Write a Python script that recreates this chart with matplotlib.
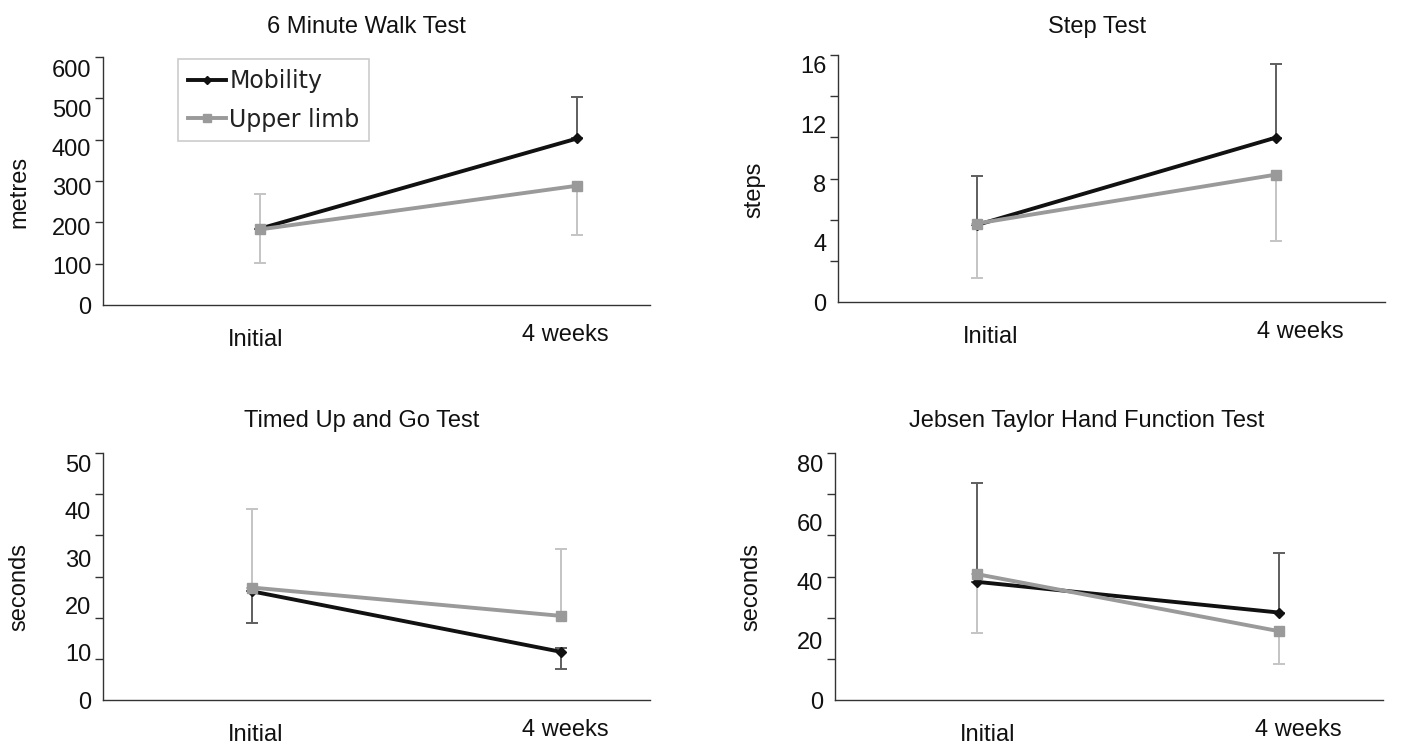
import numpy as np
import matplotlib
matplotlib.use("Agg")
import matplotlib.pyplot as plt
from matplotlib.lines import Line2D

plt.rcParams['font.family'] = ['Liberation Sans', 'DejaVu Sans']
plt.rcParams['font.size'] = 17

# --- data ---
timepoints = ["Initial", "4 weeks"]
series_names = ["Mobility", "Upper limb"]

walk_mobility = [194, 423]
walk_mobility_lo = [0, 0]
walk_mobility_hi = [0, 105]
walk_upper = [192, 303]
walk_upper_lo = [86, 125]
walk_upper_hi = [91, 0]

step_mobility = [5.2, 11.1]
step_mobility_lo = [0, 0]
step_mobility_hi = [3.3, 5.0]
step_upper = [5.3, 8.6]
step_upper_lo = [3.7, 4.5]
step_upper_hi = [0, 0]

tug_mobility = [23.0, 10.2]
tug_mobility_lo = [6.8, 3.7]
tug_mobility_hi = [0, 0.9]
tug_upper = [23.8, 17.8]
tug_upper_lo = [0, 0]
tug_upper_hi = [16.7, 14.2]

jt_mobility = [40.0, 29.6]
jt_mobility_lo = [0, 0]
jt_mobility_hi = [33.5, 20.3]
jt_upper = [42.6, 23.3]
jt_upper_lo = [19.8, 11.2]
jt_upper_hi = [0, 0]

walk_ticks = [0, 100, 200, 300, 400, 500, 600]
step_ticks = [0, 4, 8, 12, 16]
tug_ticks = [0, 10, 20, 30, 40, 50]
jt_ticks = [0, 20, 40, 60, 80]

# --- layout ---
MOB_COLOR = '#111111'
UPP_COLOR = '#9a9a9a'
MOB_ERR = '#5e5e5e'
UPP_ERR = '#c4c4c4'

fig = plt.figure(figsize=(14.02, 7.45), dpi=100)

panels = [
    # rect, title, title_x, ylabel, ytop, ticks, data, x fractions of the two points, title pad
    ([0.0735, 0.5906, 0.390, 0.3329], "6 Minute Walk Test", 0.481, "metres", 630, walk_ticks,
     (walk_mobility, walk_mobility_lo, walk_mobility_hi, walk_upper, walk_upper_lo, walk_upper_hi),
     (0.287, 0.867), 17.0),
    ([0.5977, 0.5946, 0.390, 0.3315], "Step Test", 0.473, "steps", 16.67, step_ticks,
     (step_mobility, step_mobility_lo, step_mobility_hi, step_upper, step_upper_lo, step_upper_hi),
     (0.254, 0.801), 16.0),
    ([0.0735, 0.0604, 0.390, 0.3315], "Timed Up and Go Test", 0.473, "seconds", 52.25, tug_ticks,
     (tug_mobility, tug_mobility_lo, tug_mobility_hi, tug_upper, tug_upper_lo, tug_upper_hi),
     (0.272, 0.837), 18.5),
    ([0.5956, 0.0604, 0.3909, 0.3315], "Jebsen Taylor Hand Function Test", 0.46, "seconds", 83.6, jt_ticks,
     (jt_mobility, jt_mobility_lo, jt_mobility_hi, jt_upper, jt_upper_lo, jt_upper_hi),
     (0.259, 0.810), 18.5),
]

label_fracs = (0.279, 0.845)
x = np.arange(len(timepoints))

axes = []
for rect, title, tx, ylab, ytop, ticks, data, xf, tpad in panels:
    ax = fig.add_axes(rect)
    mob, mlo, mhi, upp, ulo, uhi = data

    # x limits so that the two points land where they are in the reference
    w = 1.0 / (xf[1] - xf[0])
    x0 = -xf[0] * w
    ax.set_xlim(x0, x0 + w)
    ax.set_ylim(0, ytop)

    ax.errorbar(x, mob, yerr=[mlo, mhi], fmt='none', ecolor=MOB_ERR,
                elinewidth=1.4, capsize=4, capthick=1.4, zorder=2)
    ax.errorbar(x, upp, yerr=[ulo, uhi], fmt='none', ecolor=UPP_ERR,
                elinewidth=1.4, capsize=4, capthick=1.4, zorder=2)
    ax.plot(x, mob, color=MOB_COLOR, lw=2.8, marker='D', ms=5, zorder=3)
    ax.plot(x, upp, color=UPP_COLOR, lw=2.8, marker='s', ms=7, zorder=4)

    for s in ['top', 'right']:
        ax.spines[s].set_visible(False)
    for s in ['left', 'bottom']:
        ax.spines[s].set_color('#333333')
        ax.spines[s].set_linewidth(1.0)

    # labels and tick marks do not line up in the original
    ax.set_yticks(ticks)
    ax.set_yticks(np.linspace(0, ytop, 7), minor=True)
    ax.tick_params(axis='y', which='major', length=0, pad=8.5, labelsize=17, labelcolor='#111111')
    ax.tick_params(axis='y', which='minor', length=6, width=1.0, color='#333333')

    lx = [x0 + f * w for f in label_fracs]
    ax.set_xticks(lx)
    ax.set_xticklabels(timepoints)
    ax.tick_params(axis='x', length=0, labelsize=17, labelcolor='#111111')
    xt = ax.xaxis.get_major_ticks()
    xt[0].set_pad(17)
    xt[1].set_pad(13.5)

    ax.set_ylabel(ylab, fontsize=17, color='#111111')
    ax.yaxis.set_label_coords(-0.133, 0.456)
    ax.set_title(title, x=tx, pad=tpad, fontsize=17, color='#111111')
    axes.append(ax)

handles = [
    Line2D([], [], color=MOB_COLOR, lw=2.8, marker='D', ms=4),
    Line2D([], [], color=UPP_COLOR, lw=2.8, marker='s', ms=6),
]
leg = axes[0].legend(handles, series_names, loc='upper left', bbox_to_anchor=(0.137, 0.99),
                     borderaxespad=0, frameon=True, fancybox=False, framealpha=1,
                     handlelength=1.6, handletextpad=0.15, labelspacing=0.6,
                     borderpad=0.42, prop={'family': 'DejaVu Sans', 'size': 17})
leg.get_frame().set_edgecolor('#cccccc')
leg.get_frame().set_linewidth(1.2)
for t in leg.get_texts():
    t.set_color('#222222')

fig.savefig("out.png", dpi=100)
